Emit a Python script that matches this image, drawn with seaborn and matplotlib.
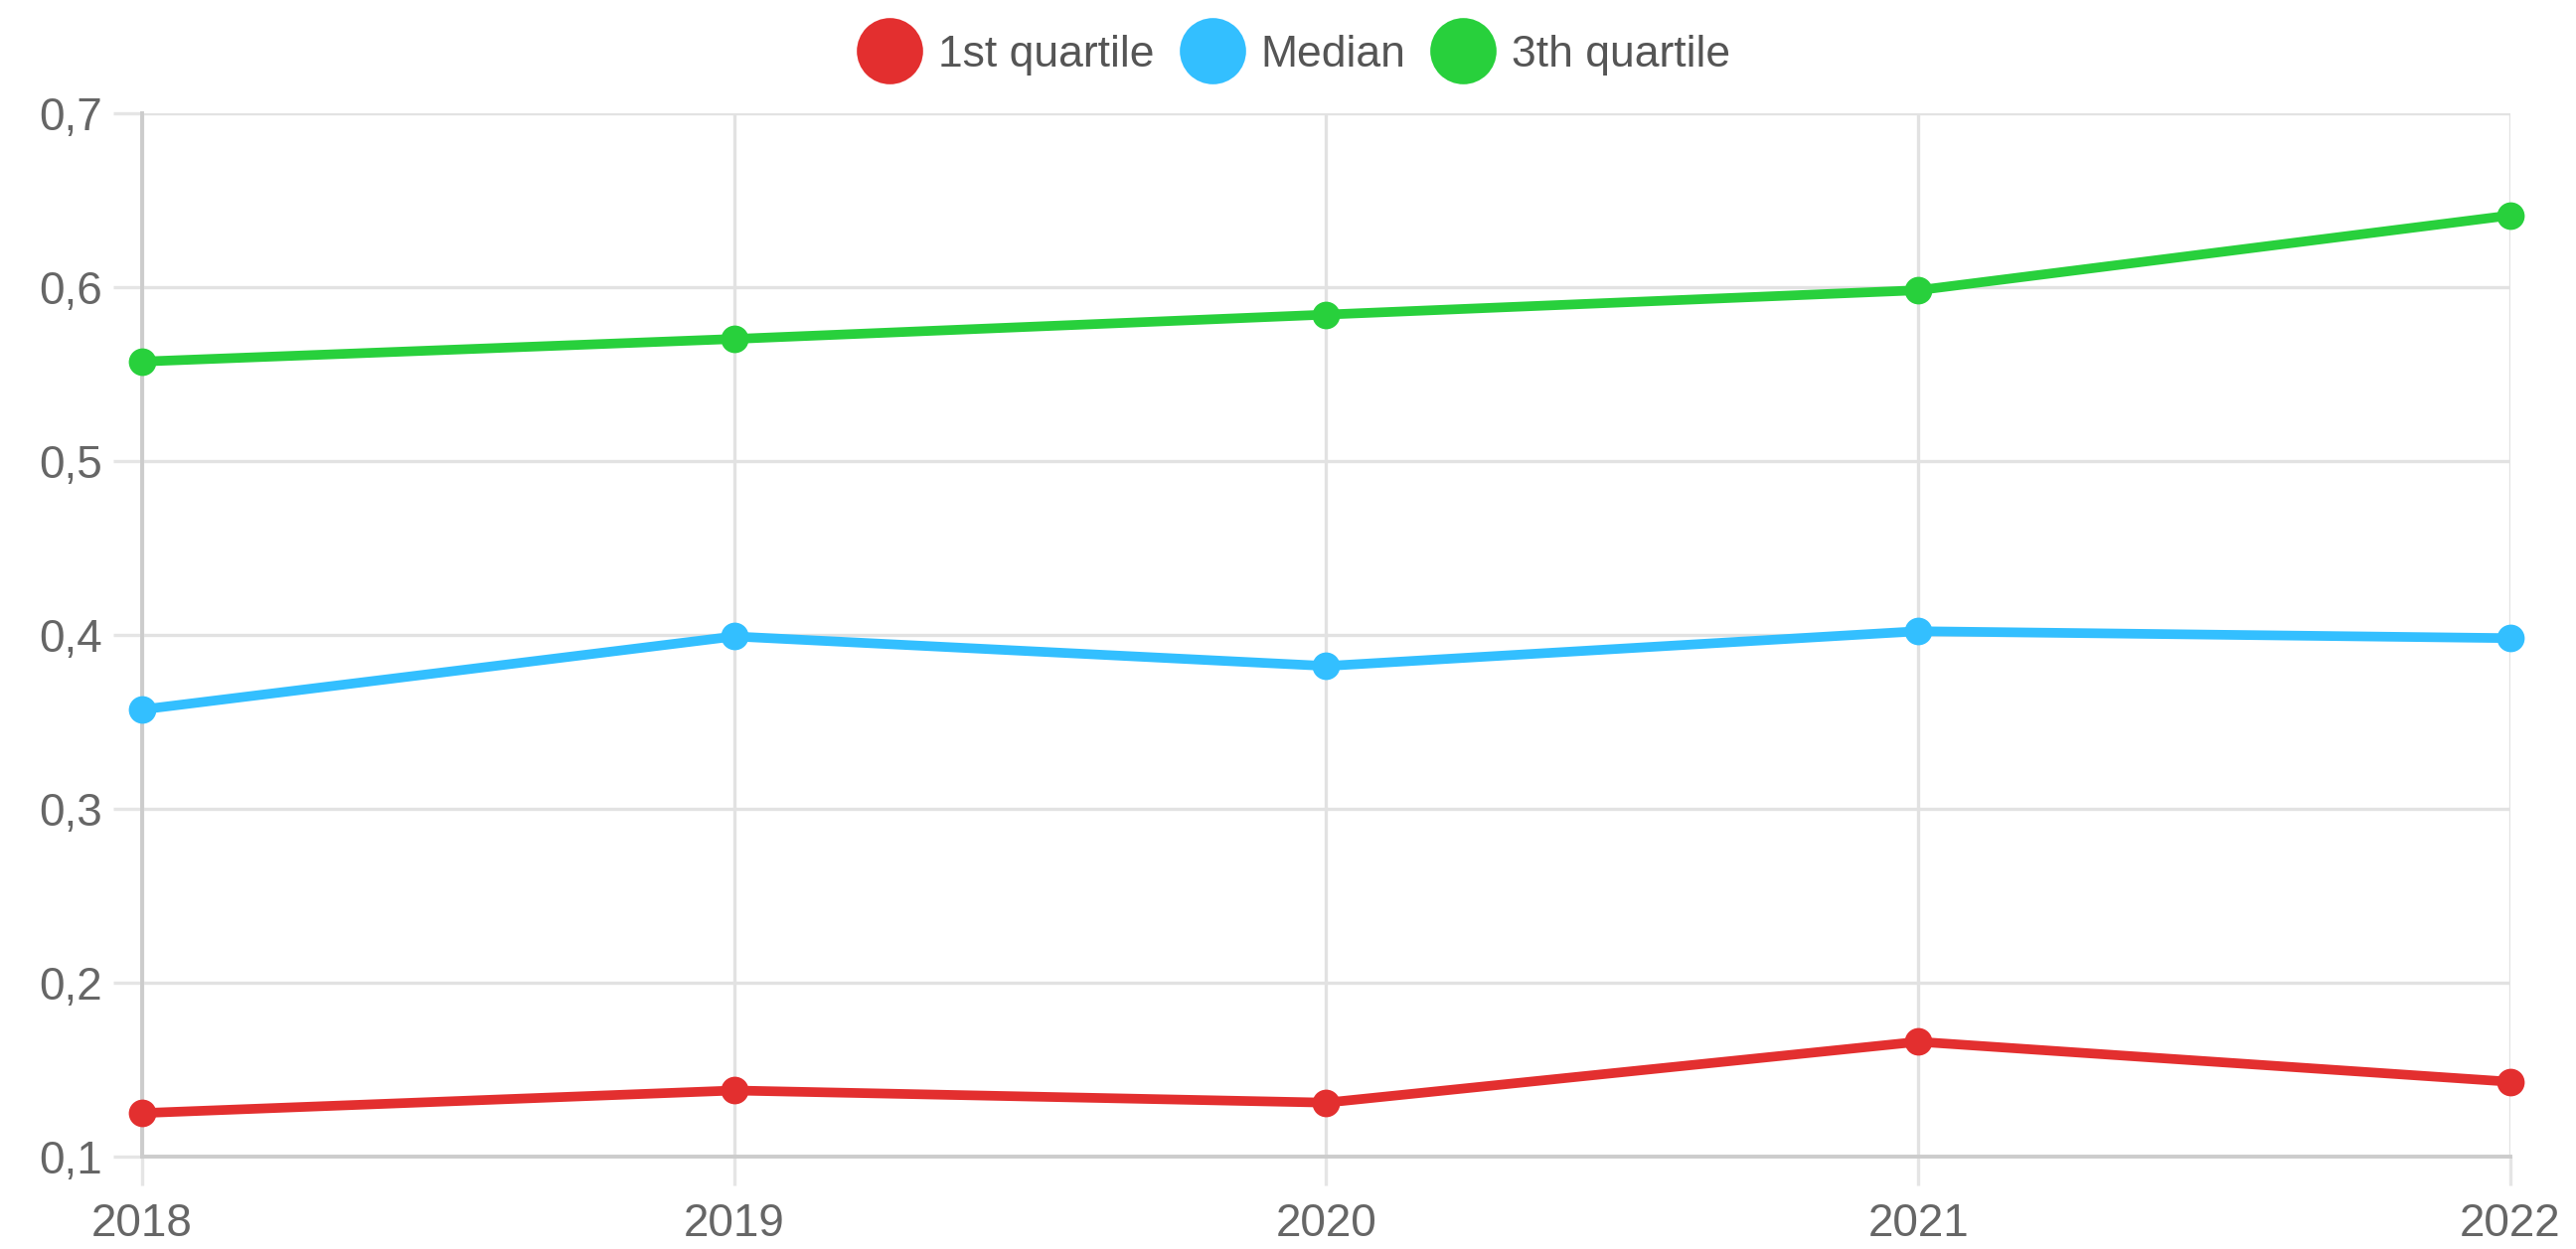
# Quartiles by year, line chart
import pandas as pd
import matplotlib
matplotlib.use("Agg")
import matplotlib.pyplot as plt
from matplotlib.lines import Line2D
from matplotlib.ticker import FuncFormatter, MultipleLocator
import seaborn as sns

years = [2018, 2019, 2020, 2021, 2022]
first_quartile = [0.125, 0.138, 0.131, 0.166, 0.143]
median = [0.357, 0.399, 0.382, 0.402, 0.398]
third_quartile = [0.557, 0.570, 0.584, 0.598, 0.641]

series_names = ["1st quartile", "Median", "3th quartile"]
colors = ["#e32f2f", "#33bfff", "#28d03c"]

df = pd.concat([
    pd.DataFrame({"year": years, "value": first_quartile, "series": series_names[0]}),
    pd.DataFrame({"year": years, "value": median, "series": series_names[1]}),
    pd.DataFrame({"year": years, "value": third_quartile, "series": series_names[2]}),
])

sns.set_theme(style="white")
plt.rcParams["font.family"] = ["Liberation Sans", "DejaVu Sans"]

fig = plt.figure(figsize=(25.92, 12.57), dpi=100)
ax = fig.add_axes([0.0552, 0.074, 0.9193, 0.8357])

sns.lineplot(data=df, x="year", y="value", hue="series", hue_order=series_names,
             palette=colors, marker="o", markersize=20, markeredgewidth=0,
             linewidth=7, ax=ax, legend=False, zorder=3)
for line in ax.lines:
    line.set_clip_on(False)

ax.set_xlim(2018, 2022)
ax.set_ylim(0.1, 0.7)
ax.xaxis.set_major_locator(MultipleLocator(1))
ax.yaxis.set_major_locator(MultipleLocator(0.1))
ax.xaxis.set_major_formatter(FuncFormatter(lambda v, p: f"{int(round(v))}"))
ax.yaxis.set_major_formatter(FuncFormatter(lambda v, p: f"{v:.1f}".replace(".", ",")))
ax.set_xlabel("")
ax.set_ylabel("")

ax.grid(True, color="#e2e2e2", linewidth=2.4)
ax.set_axisbelow(True)
for side in ["top", "right"]:
    ax.spines[side].set_visible(False)
for side in ["left", "bottom"]:
    ax.spines[side].set_color("#cccccc")
    ax.spines[side].set_linewidth(2.8)

ax.tick_params(axis="both", bottom=True, left=True, length=21, width=2.4,
               color="#e5e5e5", labelcolor="#666666", labelsize=33)
ax.tick_params(axis="y", pad=8)
ax.tick_params(axis="x", pad=12)

handles = [Line2D([], [], linestyle="none", marker="o", markersize=48,
                  markerfacecolor=c, markeredgewidth=0) for c in colors]
fig.legend(handles, series_names, loc="center", bbox_to_anchor=(0.5, 0.956),
           ncol=3, frameon=False, fontsize=32, handletextpad=0.1,
           columnspacing=0.3, labelcolor="#555555")

fig.savefig("out.png", dpi=100)
